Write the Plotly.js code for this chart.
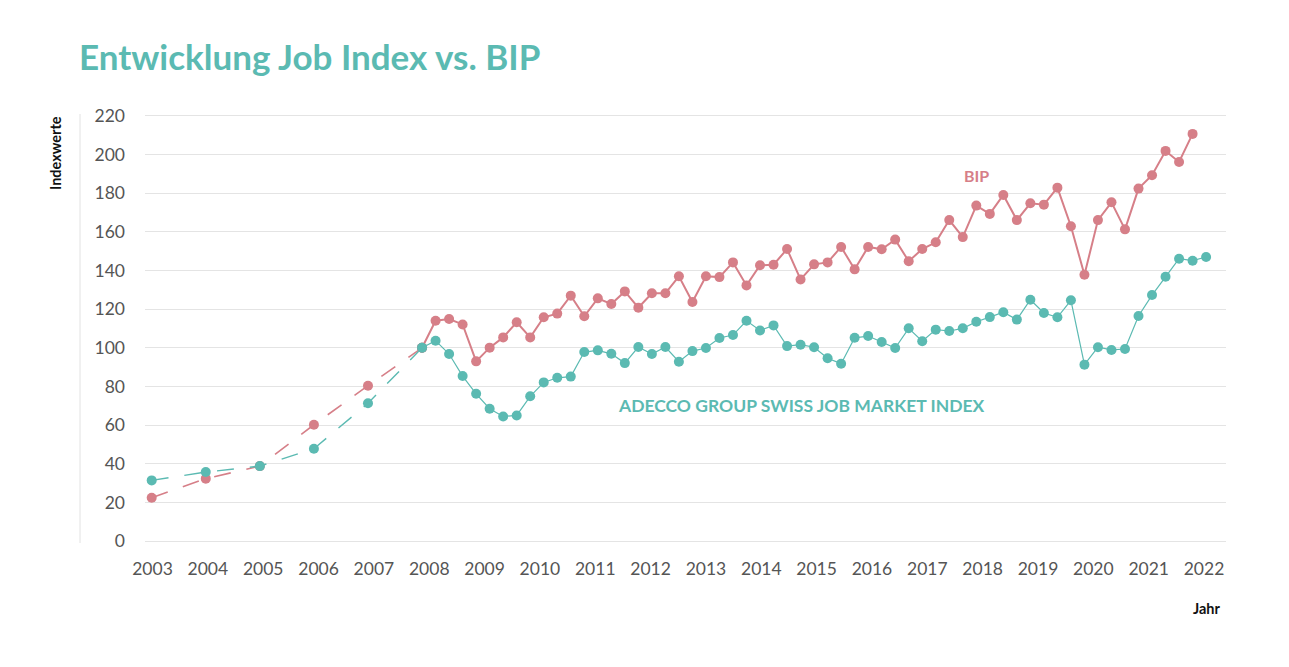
<!DOCTYPE html>
<html><head><meta charset="utf-8">
<script src="https://cdn.plot.ly/plotly-3.0.1.min.js"></script>
<style>html,body{margin:0;padding:0;background:#fff}#chart{width:1289px;height:667px}</style>
</head><body><div id="chart"></div>
<script>
// ---- data ----
const annualYears = [2003, 2004, 2005, 2006, 2007, 2008];
const bipAnnual = [22.4, 32.3, 38.8, 60.2, 80.4, 100];
const jobAnnual = [31.4, 35.7, 38.8, 47.8, 71.3, 100];

const quarterStart = 2008; // quarterly values from Q1 2008
const bipQuarterly = [
  100, 114.0, 114.9, 112.1, 93.0, 100.1, 105.4, 113.2, 105.4, 115.8,
  117.7, 127.0, 116.3, 125.6, 122.7, 129.2, 120.8, 128.2, 128.2, 137.0,
  123.7, 137.0, 136.6, 144.2, 132.3, 142.7, 143.0, 151.1, 135.4, 143.2,
  144.2, 152.2, 140.6, 152.2, 151.0, 156.0, 144.8, 151.1, 154.6, 166.1,
  157.3, 173.6, 169.3, 179.1, 166.1, 174.8, 174.1, 182.9, 162.9, 137.8,
  166.1, 175.3, 161.3, 182.4, 189.3, 201.9, 196.2, 210.7
];
const jobQuarterly = [
  100, 103.7, 96.8, 85.4, 76.2, 68.5, 64.5, 65.0, 74.9, 82.1,
  84.5, 85.1, 97.8, 98.7, 96.9, 92.1, 100.4, 96.8, 100.4, 92.8,
  98.3, 99.9, 105.1, 106.6, 114.0, 109.0, 111.6, 100.9, 101.6, 100.3,
  94.6, 91.8, 105.2, 106.1, 103.0, 99.9, 110.1, 103.4, 109.4, 108.7,
  110.1, 113.5, 115.9, 118.4, 114.6, 124.9, 118.0, 115.8, 124.6, 91.3,
  100.3, 98.9, 99.4, 116.5, 127.3, 136.8, 146.1, 145.1, 147.0
];
const tickYears = [2003, 2004, 2005, 2006, 2007, 2008, 2009, 2010, 2011, 2012,
  2013, 2014, 2015, 2016, 2017, 2018, 2019, 2020, 2021, 2022];
const yTicks = [0, 20, 40, 60, 80, 100, 120, 140, 160, 180, 200, 220];

// ---- styling ----
const TEAL = '#5bbab2';
const PINK = '#d67f88';
const FONT = 'Lato, "Open Sans", sans-serif';
const TICKCOLOR = '#555555';

const qx = arr => arr.map((_, i) => quarterStart + i / 4);
// year labels in the original are spaced slightly wider than the data grid
const LABEL_STEP = 1.0235, LABEL_OFFSET = 0.015;
const tickVals = tickYears.map((y, i) => tickYears[0] + LABEL_OFFSET + i * LABEL_STEP);

const traces = [
  {x: annualYears, y: bipAnnual, type: 'scatter', mode: 'lines+markers',
   line: {color: PINK, width: 1.6, dash: '17px,16px'}, marker: {color: PINK, size: 10}},
  {x: annualYears, y: jobAnnual, type: 'scatter', mode: 'lines+markers',
   line: {color: TEAL, width: 1.4, dash: '17px,16px'}, marker: {color: TEAL, size: 10}},
  {x: qx(bipQuarterly), y: bipQuarterly, type: 'scatter', mode: 'lines+markers',
   line: {color: PINK, width: 2}, marker: {color: PINK, size: 10}},
  {x: qx(jobQuarterly), y: jobQuarterly, type: 'scatter', mode: 'lines+markers',
   line: {color: TEAL, width: 1.2}, marker: {color: TEAL, size: 10}}
];

const layout = {
  width: 1289, height: 667,
  paper_bgcolor: '#fff', plot_bgcolor: '#fff',
  showlegend: false,
  margin: {l: 145, r: 63, t: 114, b: 124},
  font: {family: FONT, color: TICKCOLOR},
  title: {text: 'Entwicklung Job Index vs. BIP', x: 79 / 1289, xref: 'container', xanchor: 'left',
          y: 1 - 58 / 667, yref: 'container', yanchor: 'middle',
          font: {family: FONT, size: 35, weight: 'bold', color: TEAL}},
  xaxis: {range: [2002.876, 2022.868], showgrid: false, zeroline: false, showline: false,
          tickmode: 'array', tickvals: tickVals, ticktext: tickYears.map(String), ticks: '',
          ticklabelstandoff: 13, tickfont: {family: FONT, size: 17.5, color: TICKCOLOR}},
  yaxis: {range: [-1, 221], showgrid: true, gridcolor: '#e4e4e4', gridwidth: 1, zeroline: false,
          showline: false, tickmode: 'array', tickvals: yTicks, ticks: '',
          ticklabelstandoff: 19, tickfont: {family: FONT, size: 17.5, color: TICKCOLOR}},
  shapes: [
    {type: 'line', xref: 'paper', yref: 'y', x0: (80 - 145) / 1081, x1: (80 - 145) / 1081,
     y0: -3, y1: 222, line: {color: '#e2e2e2', width: 1}}
  ],
  annotations: [
    {text: 'BIP', xref: 'x', yref: 'y', x: 2018.245, y: 189.4, showarrow: false,
     font: {family: FONT, size: 16, color: PINK, weight: 'bold'}},
    {text: 'ADECCO GROUP SWISS JOB MARKET INDEX', xref: 'x', yref: 'y', x: 2015.008, y: 70.4,
     showarrow: false, font: {family: FONT, size: 17.5, color: TEAL, weight: 'bold'}},
    {text: 'Indexwerte', xref: 'paper', yref: 'paper', x: (55 - 145) / 1081, y: (543 - 114) / 429,
     xanchor: 'center', yanchor: 'top', textangle: -90, showarrow: false,
     font: {family: FONT, size: 14.5, color: '#111', weight: 'bold'}},
    {text: 'Jahr', xref: 'paper', yref: 'paper', x: (1223 - 145) / 1081, y: (543 - 608) / 429,
     xanchor: 'right', yanchor: 'middle', showarrow: false,
     font: {family: FONT, size: 14.5, color: '#111', weight: 'bold'}}
  ]
};

Plotly.newPlot('chart', traces, layout, {displayModeBar: false, staticPlot: true});
</script>
</body></html>
